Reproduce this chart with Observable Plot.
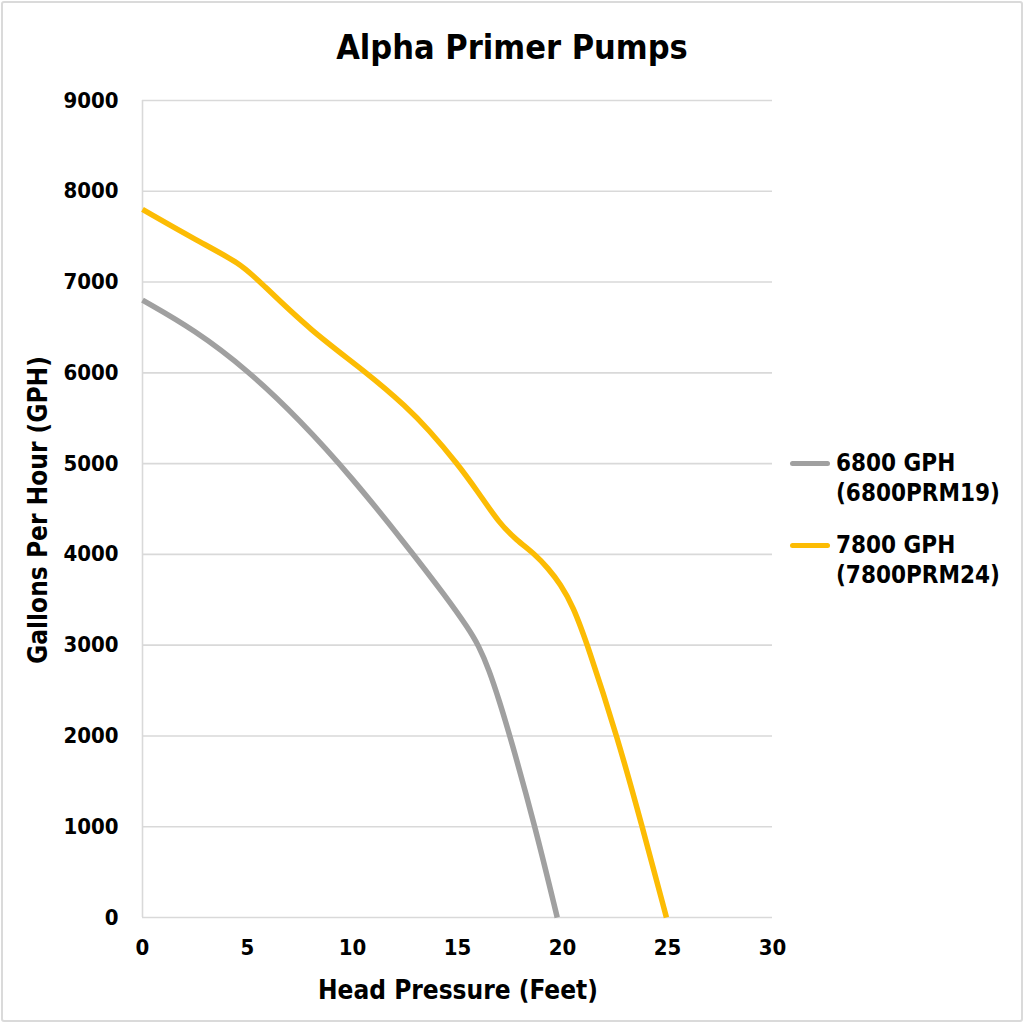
<!DOCTYPE html>
<html>
<head>
<meta charset="utf-8">
<script src="https://cdn.jsdelivr.net/npm/d3@7"></script>
<script src="https://cdn.jsdelivr.net/npm/@observablehq/plot@0.6"></script>
<style>
  html, body { margin: 0; padding: 0; background: #fff; }
  #wrap { position: relative; width: 1024px; height: 1024px; overflow: hidden; background: #fff;
          font-family: "DejaVu Sans Condensed", "DejaVu Sans", sans-serif; font-weight: bold; color: #000; }
  #frame { position: absolute; left: 1px; top: 1px; right: 1px; bottom: 2px; border: 2px solid #dadada; border-radius: 3px; pointer-events: none; }
  #title { position: absolute; left: 512px; top: 30px; transform: translateX(-50%); font-size: 34px; line-height: 34px; white-space: nowrap; }
  #xlabel { position: absolute; left: 458px; top: 990px; transform: translate(-50%, -50%); font-size: 26px; line-height: 26px; white-space: nowrap; }
  #ylabel { position: absolute; left: 38px; top: 510px; transform: translate(-50%, -50%) rotate(-90deg); font-size: 26px; line-height: 26px; white-space: nowrap; }
  #legend { position: absolute; left: 790px; top: 448px; }
  .item { display: flex; align-items: flex-start; margin-bottom: 22px; }
  .sw { width: 40px; height: 5px; border-radius: 3px; margin-top: 13px; margin-right: 6px; }
  .lt { font-size: 24px; line-height: 30px; white-space: nowrap; }
</style>
</head>
<body>
<div id="wrap">
  <div id="plot"></div>
  <div id="title"></div>
  <div id="xlabel"></div>
  <div id="ylabel"></div>
  <div id="legend"></div>
  <div id="frame"></div>
</div>
<script>
const titleText = "Alpha Primer Pumps";
const xLabelText = "Head Pressure (Feet)";
const yLabelText = "Gallons Per Hour (GPH)";

const xTicks = [0, 5, 10, 15, 20, 25, 30];
const yTicks = [0, 1000, 2000, 3000, 4000, 5000, 6000, 7000, 8000, 9000];

const seriesNames = ["6800 GPH (6800PRM19)", "7800 GPH (7800PRM24)"];
const seriesLines = [["6800 GPH", "(6800PRM19)"], ["7800 GPH", "(7800PRM24)"]];
const seriesColors = ["#a0a0a0", "#fcbc04"];

// 6800 GPH pump: head pressure (ft) vs flow (GPH)
const grayX = [0, 2.5, 5, 7.5, 10, 12.5, 14.5, 15.5, 16, 16.5, 17, 17.5, 18.7, 19.75];
const grayY = [6800, 6470, 6030, 5480, 4840, 4120, 3520, 3190, 3000, 2730, 2380, 2000, 1000, 0];

// 7800 GPH pump
const yelX = [0, 2.6, 4.7, 5.6, 8, 10.7, 12.6, 13.6, 15, 16, 17, 17.8, 18.7, 19.3, 19.9, 20.5, 21.2, 22.6, 23.8, 24.95];
const yelY = [7800, 7456, 7200, 7000, 6465, 6000, 5620, 5380, 5000, 4680, 4340, 4160, 4000, 3850, 3675, 3430, 3000, 2000, 1000, 0];

const data = [
  ...grayX.map((x, i) => ({x, y: grayY[i], s: seriesNames[0]})),
  ...yelX.map((x, i) => ({x, y: yelY[i], s: seriesNames[1]}))
];

const chart = Plot.plot({
  width: 1024,
  height: 1024,
  marginLeft: 142,
  marginRight: 252,
  marginTop: 100,
  marginBottom: 107,
  style: {fontFamily: "'DejaVu Sans Condensed', 'DejaVu Sans', sans-serif", fontSize: "22px", fontWeight: "bold", color: "#000", background: "transparent"},
  x: {domain: [0, 30], ticks: xTicks, label: null},
  y: {domain: [0, 9000], ticks: yTicks, label: null},
  color: {domain: seriesNames, range: seriesColors},
  marks: [
    Plot.ruleY(yTicks, {stroke: "#d9d9d9", strokeWidth: 1.6}),
    Plot.ruleX([0], {stroke: "#d9d9d9", strokeWidth: 1.6}),
    Plot.axisX({ticks: xTicks, tickSize: 0, tickPadding: 22, label: null, tickFormat: d => String(d)}),
    Plot.axisY({ticks: yTicks, tickSize: 0, tickPadding: 24, label: null, tickFormat: d => String(d)}),
    Plot.line(data, {x: "x", y: "y", z: "s", stroke: "s", strokeWidth: 5.5, curve: "basis", strokeLinecap: "butt"})
  ]
});
document.getElementById("plot").appendChild(chart);

document.getElementById("title").textContent = titleText;
document.getElementById("xlabel").textContent = xLabelText;
document.getElementById("ylabel").textContent = yLabelText;

const legend = document.getElementById("legend");
seriesLines.forEach((lines, i) => {
  const item = document.createElement("div");
  item.className = "item";
  const sw = document.createElement("div");
  sw.className = "sw";
  sw.style.background = seriesColors[i];
  const lt = document.createElement("div");
  lt.className = "lt";
  lt.innerHTML = lines.join("<br>");
  item.appendChild(sw);
  item.appendChild(lt);
  legend.appendChild(item);
});
</script>
</body>
</html>
